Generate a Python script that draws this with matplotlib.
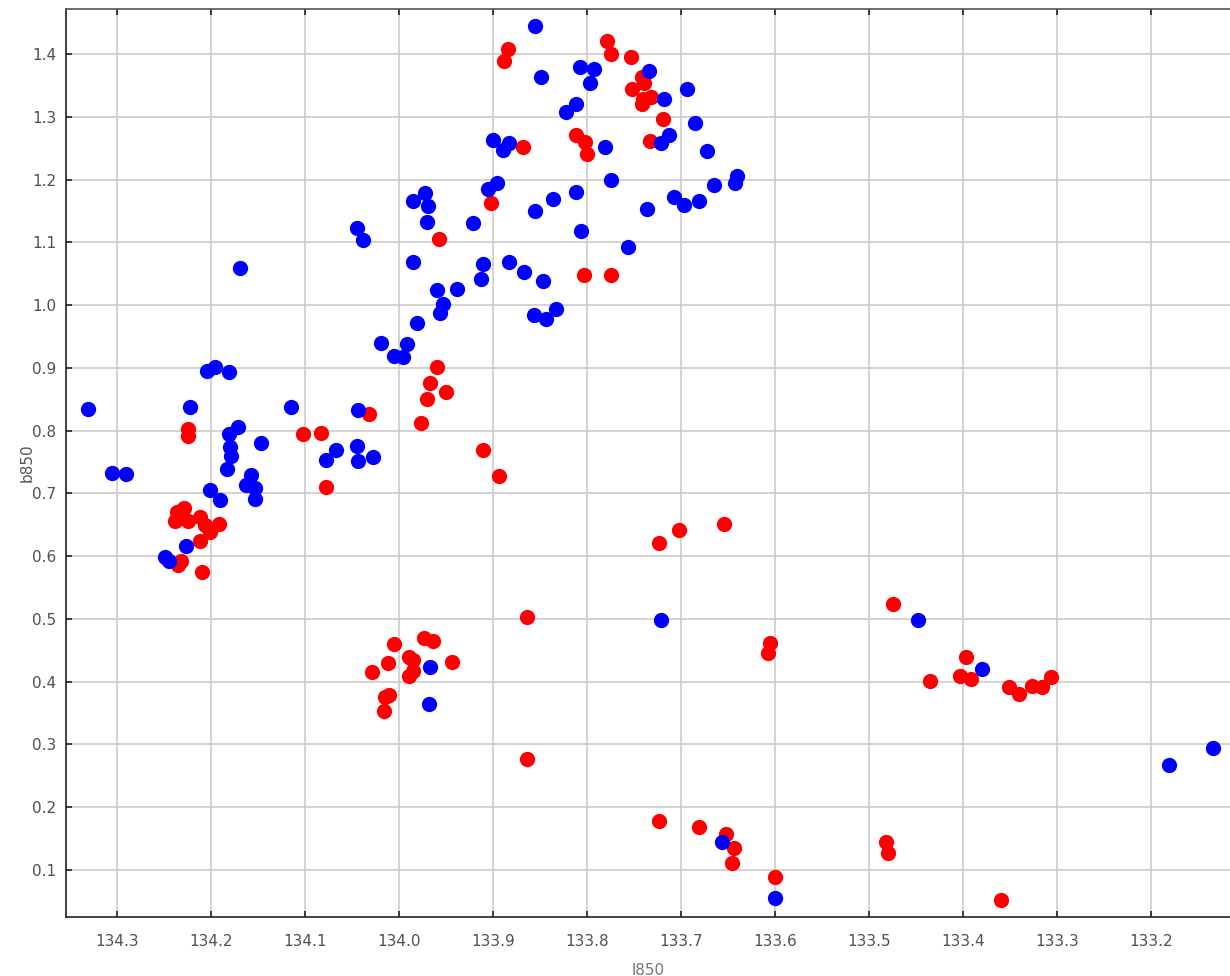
import matplotlib
matplotlib.use('Agg')
import matplotlib.pyplot as plt

# blue points (l850, b850)
blue_l = [134.331, 134.305, 134.290, 134.249, 134.244, 134.226, 134.222, 134.204, 134.195, 134.181,
          134.169, 134.171, 134.181, 134.180, 134.179, 134.183, 134.147, 134.157, 134.163, 134.153,
          134.153, 134.201, 134.190, 134.115, 134.043, 134.067, 134.077, 134.045, 134.043, 134.027,
          134.044, 134.038, 133.985, 133.972, 133.969, 133.970, 133.985, 133.959, 133.938, 133.953,
          133.956, 133.981, 134.019, 133.991, 134.005, 133.996, 133.921, 133.905, 133.896, 133.910,
          133.913, 133.883, 133.867, 133.847, 133.855, 133.836, 133.856, 133.844, 133.833, 133.855,
          133.849, 133.807, 133.792, 133.797, 133.822, 133.812, 133.900, 133.889, 133.883, 133.781,
          133.734, 133.718, 133.694, 133.721, 133.713, 133.685, 133.672, 133.774, 133.812, 133.806,
          133.756, 133.736, 133.707, 133.697, 133.681, 133.665, 133.643, 133.640, 133.967, 133.968,
          133.721, 133.656, 133.600, 133.448, 133.380, 133.181, 133.134]
blue_b = [0.834, 0.732, 0.731, 0.598, 0.592, 0.617, 0.837, 0.895, 0.901, 0.893,
          1.060, 0.806, 0.795, 0.774, 0.759, 0.739, 0.780, 0.729, 0.713, 0.708,
          0.691, 0.705, 0.689, 0.837, 0.833, 0.769, 0.753, 0.775, 0.751, 0.758,
          1.123, 1.104, 1.166, 1.178, 1.158, 1.132, 1.069, 1.024, 1.025, 1.002,
          0.987, 0.971, 0.939, 0.938, 0.919, 0.917, 1.131, 1.185, 1.194, 1.065,
          1.041, 1.069, 1.053, 1.038, 1.150, 1.169, 0.984, 0.978, 0.994, 1.445,
          1.363, 1.379, 1.376, 1.354, 1.308, 1.320, 1.264, 1.247, 1.258, 1.252,
          1.373, 1.329, 1.345, 1.259, 1.271, 1.290, 1.245, 1.200, 1.180, 1.118,
          1.092, 1.153, 1.172, 1.159, 1.166, 1.191, 1.195, 1.206, 0.423, 0.364,
          0.498, 0.144, 0.055, 0.498, 0.420, 0.267, 0.294]

# red points (l850, b850)
red_l = [134.224, 134.224, 134.102, 134.083, 134.077, 134.236, 134.228, 134.238, 134.224, 134.211,
         134.206, 134.191, 134.201, 134.211, 134.232, 134.235, 134.209, 134.032, 133.967, 133.950,
         133.970, 133.976, 133.910, 133.893, 133.959, 133.957, 133.902, 133.884, 133.888, 133.779,
         133.774, 133.753, 133.741, 133.739, 133.752, 133.732, 133.740, 133.741, 133.719, 133.733,
         133.812, 133.802, 133.800, 133.868, 133.803, 133.774, 134.005, 133.973, 133.964, 133.989,
         133.985, 134.012, 133.943, 134.029, 133.985, 133.989, 134.010, 134.015, 134.016, 133.864,
         133.864, 133.723, 133.702, 133.654, 133.723, 133.681, 133.652, 133.644, 133.646, 133.605,
         133.607, 133.600, 133.474, 133.435, 133.397, 133.403, 133.391, 133.482, 133.480, 133.351,
         133.340, 133.327, 133.316, 133.306, 133.360]
red_b = [0.803, 0.792, 0.794, 0.797, 0.710, 0.670, 0.677, 0.656, 0.656, 0.662,
         0.649, 0.652, 0.638, 0.624, 0.592, 0.586, 0.575, 0.826, 0.876, 0.862,
         0.850, 0.812, 0.770, 0.727, 0.901, 1.105, 1.163, 1.408, 1.389, 1.421,
         1.400, 1.395, 1.363, 1.354, 1.344, 1.331, 1.329, 1.321, 1.296, 1.261,
         1.271, 1.260, 1.241, 1.252, 1.048, 1.048, 0.460, 0.469, 0.465, 0.439,
         0.434, 0.430, 0.431, 0.415, 0.417, 0.409, 0.379, 0.375, 0.353, 0.503,
         0.276, 0.621, 0.642, 0.651, 0.178, 0.168, 0.157, 0.135, 0.111, 0.461,
         0.445, 0.089, 0.524, 0.401, 0.439, 0.409, 0.404, 0.144, 0.127, 0.391,
         0.380, 0.393, 0.391, 0.407, 0.052]

xticks = [134.3, 134.2, 134.1, 134.0, 133.9, 133.8, 133.7, 133.6, 133.5, 133.4, 133.3, 133.2]
yticks = [0.1, 0.2, 0.3, 0.4, 0.5, 0.6, 0.7, 0.8, 0.9, 1.0, 1.1, 1.2, 1.3, 1.4]

fig = plt.figure(figsize=(12.3, 9.76), dpi=100)
ax = fig.add_axes([66 / 1230, 59 / 976, 1164 / 1230, 908 / 976])

ax.plot(red_l, red_b, 'o', color='#ff0000', ms=11, mec='none', zorder=3)
ax.plot(blue_l, blue_b, 'o', color='#0000ff', ms=11, mec='none', zorder=3)

ax.set_xlim(134.354, 133.116)
ax.set_ylim(0.025, 1.472)
ax.set_xticks(xticks)
ax.set_yticks(yticks)
ax.set_xticklabels(['%.1f' % t for t in xticks])
ax.set_yticklabels(['%.1f' % t for t in yticks])

ax.grid(True, color='#cccccc', linewidth=1.2, zorder=0)
ax.set_axisbelow(True)
ax.tick_params(direction='in', length=4, width=1.2, colors='#222222', labelcolor='#505050',
               labelsize=11, top=True, right=False)
ax.tick_params(axis='x', pad=12)
ax.tick_params(axis='y', pad=7)

ax.spines['right'].set_visible(False)
ax.spines['top'].set_color('#555555')
ax.spines['left'].set_color('#222222')
ax.spines['bottom'].set_color('#222222')
for s in ['top', 'left', 'bottom']:
    ax.spines[s].set_linewidth(1.2)

ax.set_xlabel('l850', color='#777777', fontsize=11, labelpad=10)
ax.set_ylabel('b850', color='#555555', fontsize=11)
ax.yaxis.set_label_coords(-0.027, 0.5)

fig.savefig('out.png', dpi=100, facecolor='white')
